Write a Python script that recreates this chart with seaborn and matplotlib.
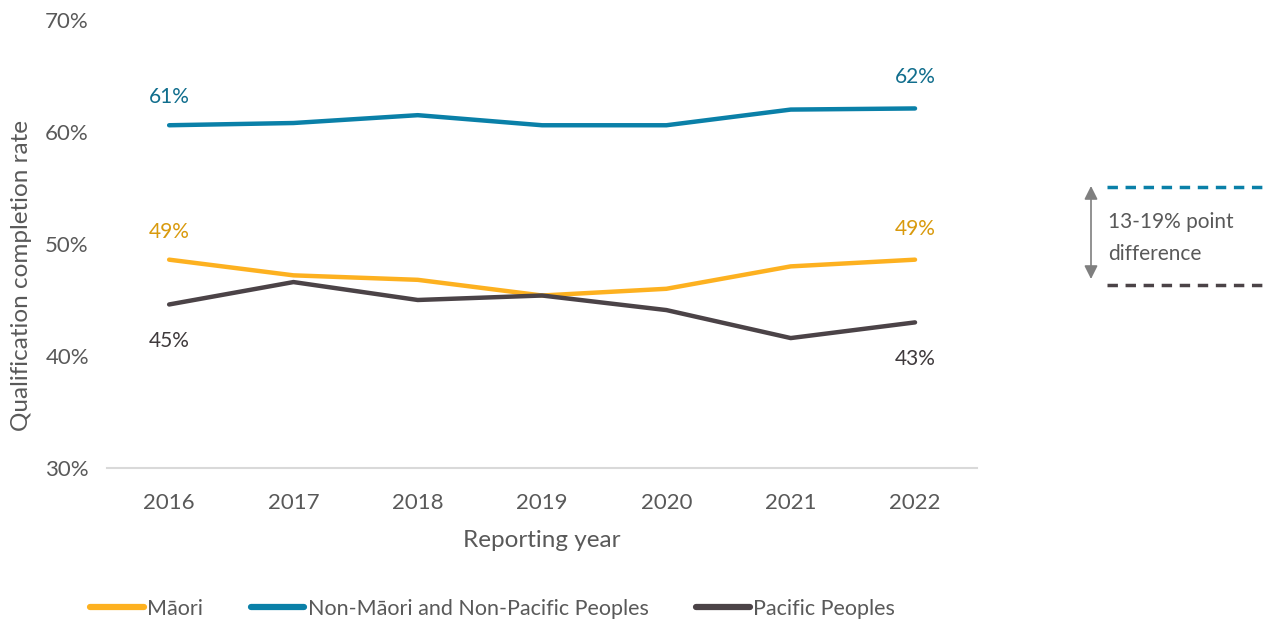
import matplotlib.pyplot as plt
import pandas as pd
import seaborn as sns
from matplotlib.lines import Line2D

years = [2016, 2017, 2018, 2019, 2020, 2021, 2022]
maori = [48.6, 47.2, 46.8, 45.4, 46.0, 48.0, 48.6]
non_maori_pacific = [60.6, 60.8, 61.5, 60.6, 60.6, 62.0, 62.1]
pacific = [44.6, 46.6, 45.0, 45.4, 44.1, 41.6, 43.0]
groups = ["Māori", "Non-Māori and Non-Pacific Peoples", "Pacific Peoples"]
colours = {"Māori": "#FDB120", "Non-Māori and Non-Pacific Peoples": "#0A80A8",
           "Pacific Peoples": "#4B4347"}
label_colours = {"Māori": "#D99A0D", "Non-Māori and Non-Pacific Peoples": "#116E8D",
                 "Pacific Peoples": "#3F3A3C"}

df = pd.DataFrame({
    "year": years * 3,
    "rate": maori + non_maori_pacific + pacific,
    "group": [g for g in groups for _ in years],
})

sns.set_theme(style="white")
plt.rcParams["font.family"] = ["Lato", "DejaVu Sans"]
grey = "#595959"

fig = plt.figure(figsize=(12.63, 6.24), dpi=100)
ax = fig.add_axes([0.0847, 0.25, 0.689, 0.718])
sns.lineplot(data=df, x="year", y="rate", hue="group", palette=colours,
             linewidth=3.2, ax=ax, legend=False, solid_capstyle="round")

ax.set_xlim(2015.5, 2022.5)
ax.set_ylim(30, 70)
ax.set_xticks(years)
ax.set_yticks([30, 40, 50, 60, 70])
ax.set_yticklabels([f"{v}%" for v in [30, 40, 50, 60, 70]])
ax.tick_params(axis="both", length=0, labelsize=16, colors=grey)
ax.tick_params(axis="y", pad=13)
ax.tick_params(axis="x", pad=18)
ax.set_xlabel("Reporting year", fontsize=17.5, color=grey, labelpad=12)
ax.set_ylabel("Qualification completion rate", fontsize=17.5, color=grey)
ax.yaxis.set_label_coords(-0.086, 0.43)
for s in ["top", "right", "left"]:
    ax.spines[s].set_visible(False)
ax.spines["bottom"].set_color("#D9D9D9")
ax.spines["bottom"].set_linewidth(1.5)

# end labels
offsets = {"Māori": (20, 22), "Non-Māori and Non-Pacific Peoples": (20, 23),
           "Pacific Peoples": (-26, -26)}
series = {"Māori": maori, "Non-Māori and Non-Pacific Peoples": non_maori_pacific,
          "Pacific Peoples": pacific}
for g in groups:
    vals = series[g]
    for i, off in [(0, offsets[g][0]), (-1, offsets[g][1])]:
        ax.annotate(f"{int(vals[i] + 0.5)}%", (years[i], vals[i]), xytext=(0, off),
                    textcoords="offset points", ha="center", va="center",
                    fontsize=15, color=label_colours[g])

# gap annotation on the right
fig.add_artist(Line2D([1107 / 1263, 1.0], [1 - 187 / 624] * 2, color=colours[groups[1]],
                      linestyle=(0, (3, 2.2)), linewidth=2.5))
fig.add_artist(Line2D([1107 / 1263, 1.0], [1 - 285 / 624] * 2, color=colours[groups[2]],
                      linestyle=(0, (3, 2.2)), linewidth=2.5))
ax.annotate("", xy=(1091 / 1263, 1 - 279 / 624), xytext=(1091 / 1263, 1 - 186 / 624),
            xycoords="figure fraction", textcoords="figure fraction",
            arrowprops=dict(arrowstyle="<|-|>", color="#7F7F7F", lw=1.2,
                            mutation_scale=20, shrinkA=0, shrinkB=0))
fig.text(1108 / 1263, 1 - 238 / 624, "13-19% point\ndifference", fontsize=15,
         color=grey, ha="left", va="center", linespacing=1.8)

handles = [Line2D([0], [0], color=colours[g], linewidth=4.5, solid_capstyle="round")
           for g in groups]
fig.legend(handles, groups, loc="center", bbox_to_anchor=(0.39, 0.024), ncol=3,
           frameon=False, fontsize=15.5, handlelength=2.5, handletextpad=0.15,
           columnspacing=2.2, labelcolor=grey)

fig.savefig("out.png", dpi=100)
